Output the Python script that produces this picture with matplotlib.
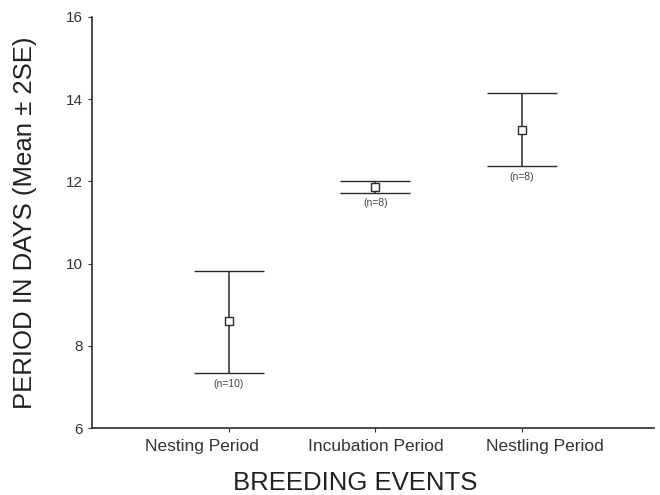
import matplotlib
matplotlib.use("Agg")
import matplotlib.pyplot as plt
import matplotlib.transforms as mtransforms

plt.rcParams['font.family'] = ['Liberation Sans', 'DejaVu Sans']

events = ['Nesting Period', 'Incubation Period', 'Nestling Period']
means = [8.60, 11.86, 13.25]
upper = [9.82, 12.01, 14.15]
lower = [7.34, 11.72, 12.37]
n_labels = ['(n=10)', '(n=8)', '(n=8)']

ink = '#2b2b2b'

fig = plt.figure(figsize=(6.6, 4.95), dpi=100)
ax = fig.add_axes([0.139, 0.135, 0.852, 0.831])

x = list(range(1, len(events) + 1))
err_lo = [m - l for m, l in zip(means, lower)]
err_hi = [u - m for m, u in zip(means, upper)]

ax.errorbar(x, means, yerr=[err_lo, err_hi], fmt='s', color=ink,
            mfc='white', mec=ink, ms=6, mew=1.0, elinewidth=1.1,
            capsize=25.5, capthick=1.5, ecolor=ink)

# sample sizes under each lower cap
for xi, lo, lab in zip(x, lower, n_labels):
    ax.annotate(lab, (xi, lo), xytext=(0, -4), textcoords='offset points',
                ha='center', va='top', fontsize=7.5, color='#444444')

ax.set_xlim(0.065, 3.9)
ax.set_ylim(6, 16)
ax.set_xticks(x)
ax.set_xticklabels(events, fontsize=12.5, color='#333333')
ax.set_yticks([6, 8, 10, 12, 14, 16])
ax.tick_params(axis='y', labelsize=11, length=3, colors='#333333')
ax.tick_params(axis='x', length=3, colors='#333333', pad=5)

# the outer category labels sit a bit wider apart than the ticks
for lbl, dx in zip(ax.get_xticklabels(), [-0.27, 0, 0.23]):
    lbl.set_transform(lbl.get_transform() +
                      mtransforms.ScaledTranslation(dx, 0, fig.dpi_scale_trans))

ax.spines['top'].set_visible(False)
ax.spines['right'].set_visible(False)
ax.spines['left'].set_color(ink)
ax.spines['bottom'].set_color(ink)
ax.spines['left'].set_linewidth(1.2)
ax.spines['bottom'].set_linewidth(1.2)

ax.set_xlabel('BREEDING EVENTS', fontsize=18.5, color='#222222')
ax.xaxis.set_label_coords(0.468, -0.103)
ax.set_ylabel('PERIOD IN DAYS (Mean \u00b1 2SE)', fontsize=18.5, color='#222222')
ax.yaxis.set_label_coords(-0.097, 0.5)

fig.savefig('out.png', dpi=100)
